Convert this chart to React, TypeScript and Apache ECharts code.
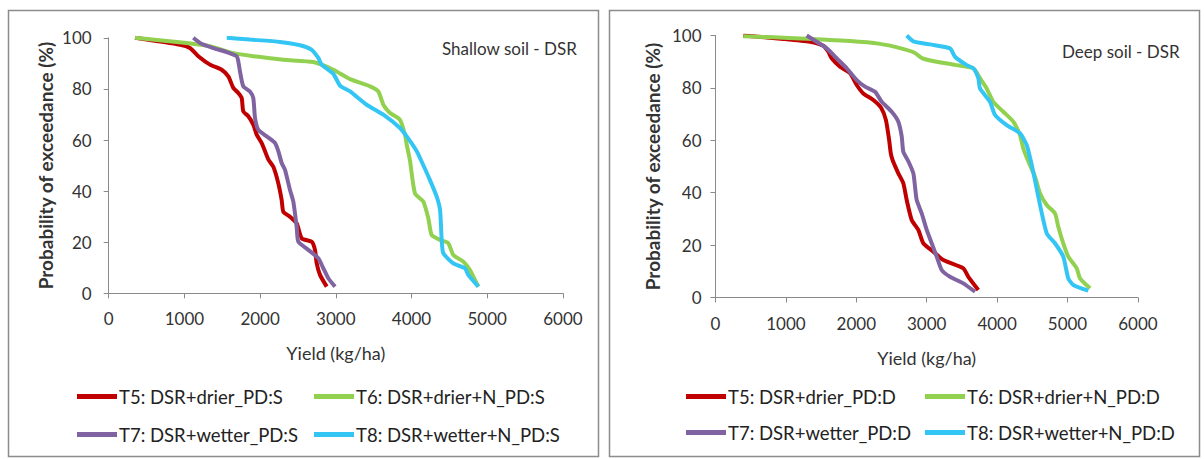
import React, { useEffect, useRef } from "react";
import * as echarts from "echarts";

// ---- Data (yield kg/ha, probability of exceedance %) ----
const namesShallow = [
  "T5: DSR+drier_PD:S",
  "T6: DSR+drier+N_PD:S",
  "T7: DSR+wetter_PD:S",
  "T8: DSR+wetter+N_PD:S",
];
const namesDeep = [
  "T5: DSR+drier_PD:D",
  "T6: DSR+drier+N_PD:D",
  "T7: DSR+wetter_PD:D",
  "T8: DSR+wetter+N_PD:D",
];
const xTicks = [0, 1000, 2000, 3000, 4000, 5000, 6000];
const yTicks = [0, 20, 40, 60, 80, 100];

const shallowT5 = [[347,100],[942,97.3],[1074,96],[1184,92.8],[1338,89.5],[1492,87.5],[1580,84.9],[1646,80.4],[1712,78.4],[1757,76.4],[1778,71.2],[1844,69.3],[1910,66],[1955,62.1],[2021,58.8],[2065,55.6],[2110,52.3],[2175,49.5],[2241,43],[2285,36.5],[2307,31.9],[2395,30],[2483,27.4],[2550,21.5],[2682,20.2],[2725,17],[2748,11.7],[2791,7.2],[2880,2.6]];
const shallowT6 = [[347,100],[1030,98],[1338,96.7],[1646,94],[1910,92.8],[2307,91.4],[2703,90.5],[2967,87.5],[3188,83.8],[3452,81],[3562,79],[3628,73.8],[3716,70.6],[3848,67.9],[3914,62.1],[3937,58.2],[3980,51.9],[4046,39.1],[4156,35.9],[4222,29.4],[4267,22.8],[4377,20.9],[4486,19.6],[4552,15],[4684,12.4],[4773,9.1],[4817,6.5],[4883,2.6]];
const shallowT7 = [[1118,100],[1206,98],[1382,96],[1559,94.4],[1691,92.8],[1712,90.8],[1734,86.9],[1778,81],[1866,79],[1910,76.4],[1933,68.6],[1976,64],[2087,61.4],[2197,58.8],[2241,55.6],[2285,51],[2329,48.3],[2395,40.4],[2439,35.9],[2483,26],[2505,20.2],[2637,17],[2769,13.7],[2835,9.8],[2901,5.9],[2990,2.6]];
const shallowT8 = [[1559,100],[1866,99.3],[2263,98.4],[2527,97.1],[2682,95.3],[2769,92.1],[2813,89.5],[2967,85.9],[3056,81.3],[3188,79],[3408,73.8],[3628,69.9],[3848,64.7],[3937,61.4],[4069,55.6],[4135,51.5],[4244,44.3],[4333,37.8],[4377,32.6],[4399,20.9],[4420,15.7],[4552,11.7],[4706,9.8],[4750,7.2],[4883,2.6]];

const deepT5 = [[395,100],[963,98.7],[1342,97.6],[1531,96.1],[1602,93.8],[1650,91.3],[1768,88.1],[1911,85.6],[2006,81.1],[2099,77.9],[2241,75.4],[2350,72.5],[2420,67.8],[2467,60],[2490,55],[2515,52.5],[2597,47.4],[2668,43.6],[2716,37.2],[2787,29.6],[2881,25.8],[2952,20.7],[3094,17.5],[3236,14.3],[3520,11.1],[3591,7.9],[3733,2.9]];
const deepT6 = [[395,99.7],[1200,98.9],[1911,97.9],[2337,96.8],[2621,95.2],[2822,93.5],[2940,91.3],[3140,90],[3400,88.8],[3662,87.5],[3757,83.7],[3852,79.8],[3946,74.7],[4088,70.9],[4230,67.1],[4325,62],[4372,56.9],[4443,52],[4538,46.1],[4609,39.8],[4705,35.3],[4822,32.1],[4869,27],[4940,20.7],[5011,15.6],[5131,11.1],[5178,7.3],[5320,3.5]];
const deepT7 = [[1295,100],[1437,97.6],[1580,95.1],[1722,91.3],[1864,87.5],[2006,83],[2124,80.5],[2266,78.5],[2361,74.7],[2503,70.9],[2597,67.1],[2645,61.5],[2668,55.6],[2739,52],[2810,47.4],[2834,42.3],[2858,37.2],[2929,32.1],[3000,25.8],[3071,20.7],[3142,15.6],[3213,10.5],[3331,7.9],[3520,5.4],[3686,2.2]];
const deepT8 = [[2716,100],[2810,97.8],[3047,96.6],[3331,95.1],[3402,91.9],[3568,88.7],[3662,87.5],[3733,83.7],[3757,79.8],[3899,74.7],[3970,69.7],[4136,65.8],[4325,62.7],[4420,58.2],[4480,52],[4538,44.8],[4585,38.5],[4705,24.5],[4822,20.7],[4940,15.6],[5011,7.3],[5082,4.8],[5295,2.6]];

const colors = ["#C00000", "#92D050", "#8064A2", "#33C6F4"];
const FONT = "Lato, 'Open Sans', sans-serif";

export default function App() {
  const ref = useRef<HTMLDivElement>(null);
  useEffect(() => {
    if (!ref.current) return;
    const chart = echarts.init(ref.current, null, { renderer: "svg" });
    const shallow = [shallowT5, shallowT6, shallowT7, shallowT8];
    const deep = [deepT5, deepT6, deepT7, deepT8];

    const mkX = (gi: number) => ({
      type: "value",
      gridIndex: gi,
      min: xTicks[0],
      max: xTicks[xTicks.length - 1],
      interval: 1000,
      name: "Yield (kg/ha)",
      nameLocation: "middle",
      nameGap: 51,
      nameTextStyle: { fontFamily: FONT, fontSize: 18, color: "#333" },
      axisLine: { show: true, lineStyle: { color: "#8a8a8a", width: 1 } },
      axisTick: { show: true, length: 5, lineStyle: { color: "#8a8a8a" } },
      axisLabel: {
        fontFamily: FONT,
        fontSize: 17,
        color: "#333",
        margin: 17,
        formatter: (v: number) => String(v),
      },
      splitLine: { show: false },
    });
    const mkY = (gi: number, margin: number) => ({
      type: "value",
      gridIndex: gi,
      min: yTicks[0],
      max: yTicks[yTicks.length - 1],
      interval: 20,
      name: "Probability of exceedance (%)",
      nameLocation: "middle",
      nameGap: 54,
      nameTextStyle: { fontFamily: FONT, fontSize: 19, fontWeight: "bold", color: "#333" },
      axisLine: { show: true, lineStyle: { color: "#8a8a8a", width: 1 } },
      axisTick: { show: true, length: 5, lineStyle: { color: "#8a8a8a" } },
      axisLabel: {
        fontFamily: FONT,
        fontSize: 17,
        color: "#333",
        margin,
        formatter: (v: number) => String(v),
      },
      splitLine: { show: false },
    });

    const series: any[] = [];
    shallow.forEach((d, i) =>
      series.push({
        name: namesShallow[i],
        type: "line",
        xAxisIndex: 0,
        yAxisIndex: 0,
        data: d,
        smooth: 0.2,
        showSymbol: false,
        symbol: "none",
        lineStyle: { color: colors[i], width: 4 },
        itemStyle: { color: colors[i] },
      })
    );
    deep.forEach((d, i) =>
      series.push({
        name: namesDeep[i],
        type: "line",
        xAxisIndex: 1,
        yAxisIndex: 1,
        data: d,
        smooth: 0.2,
        showSymbol: false,
        symbol: "none",
        lineStyle: { color: colors[i], width: 4 },
        itemStyle: { color: colors[i] },
      })
    );

    const mkLegend = (data: string[], left: number, top: number, gap: number) => ({
      data,
      orient: "vertical",
      left,
      top,
      itemGap: gap,
      icon: "rect",
      itemWidth: 40,
      itemHeight: 5,
      padding: 0,
      textStyle: {
        fontFamily: FONT,
        fontSize: 18.5,
        color: "#222",
        lineHeight: 21,
        padding: [0, 0, 0, -3],
      },
    });

    chart.setOption({
      animation: false,
      backgroundColor: "#ffffff",
      grid: [
        { left: 108.7, top: 37.8, width: 454.2, height: 255.5 },
        { left: 715.5, top: 35.5, width: 422.4, height: 262 },
      ],
      xAxis: [mkX(0), mkX(1)],
      yAxis: [mkY(0, 17), mkY(1, 14)],
      legend: [
        mkLegend([namesShallow[0], namesShallow[2]], 77, 386, 17),
        mkLegend([namesShallow[1], namesShallow[3]], 314, 386, 17),
        mkLegend([namesDeep[0], namesDeep[2]], 686, 386, 15),
        mkLegend([namesDeep[1], namesDeep[3]], 925, 386, 15),
      ],
      graphic: [
        {
          type: "rect",
          shape: { x: 8.5, y: 10.5, width: 590, height: 446 },
          style: { fill: "none", stroke: "#8c8c8c", lineWidth: 1.5 },
          silent: true,
        },
        {
          type: "rect",
          shape: { x: 609.5, y: 10.5, width: 590, height: 446 },
          style: { fill: "none", stroke: "#8c8c8c", lineWidth: 1.5 },
          silent: true,
        },
        {
          type: "text",
          left: 442,
          top: 40,
          style: { text: "Shallow soil - DSR", fontFamily: FONT, fontSize: 17, fill: "#333" },
        },
        {
          type: "text",
          left: 1062,
          top: 43,
          style: { text: "Deep soil - DSR", fontFamily: FONT, fontSize: 17, fill: "#333" },
        },
      ],
      series,
    });
    return () => chart.dispose();
  }, []);
  return (
    <div
      ref={ref}
      style={{ position: "fixed", left: 0, top: 0, width: 1204, height: 459, background: "#fff" }}
    />
  );
}
